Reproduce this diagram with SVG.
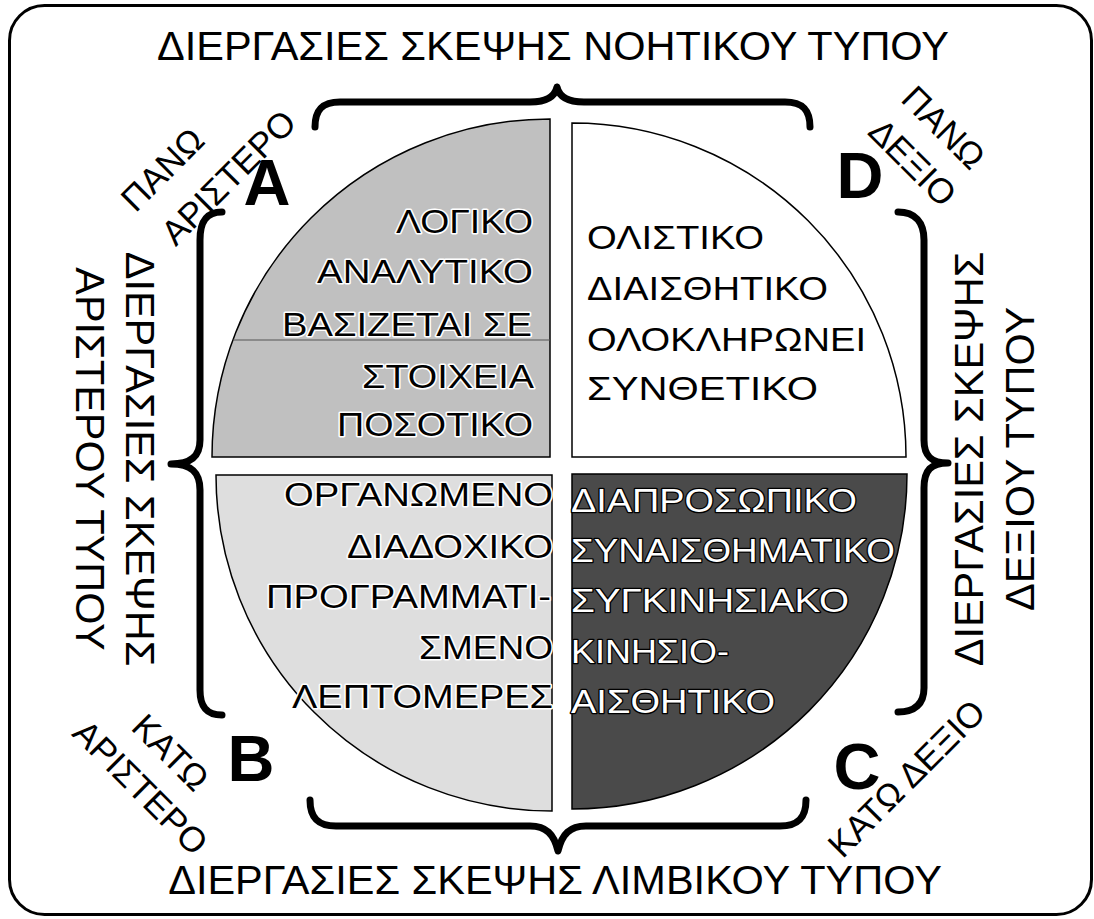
<svg xmlns="http://www.w3.org/2000/svg" width="1094" height="919" viewBox="0 0 1094 919">
<style>
.frame{fill:#fff;stroke:#000;stroke-width:3}
.q{stroke:#000;stroke-width:1.5}
.brace{fill:none;stroke:#000;stroke-width:7;stroke-linecap:round;stroke-linejoin:round}
.t{font-family:"Liberation Sans",Arial,sans-serif;fill:#000}
.big{font-size:41.5px;text-anchor:middle}
.corner{font-size:35px;text-anchor:middle}
.letter{font-size:65px;font-weight:bold;text-anchor:middle}
.qt{font-family:"Liberation Sans",Arial,sans-serif;font-size:34px}
.halo{fill:#000;stroke:#fff;stroke-width:3;paint-order:stroke;stroke-linejoin:round}
.inv{fill:#fff;stroke:#000;stroke-width:2.5;paint-order:stroke;stroke-linejoin:round}
.plain{fill:#000}
</style>
<rect class="frame" x="9.5" y="5.5" width="1082" height="909" rx="35" ry="35"/>

<g id="quadrant-A">
<path class="q" fill="#c0c0c0" d="M550,457 L212,457 A338,338 0 0 1 550,119 Z"/>
<line x1="233" y1="340" x2="550" y2="340" stroke="#555" stroke-width="1"/>
<text class="qt halo" x="396" y="233" textLength="137" lengthAdjust="spacingAndGlyphs">ΛΟΓΙΚΟ</text>
<text class="qt halo" x="317" y="283" textLength="216" lengthAdjust="spacingAndGlyphs">ΑΝΑΛΥΤΙΚΟ</text>
<text class="qt halo" x="282" y="336" textLength="250" lengthAdjust="spacingAndGlyphs">ΒΑΣΙΖΕΤΑΙ ΣΕ</text>
<text class="qt halo" x="362" y="388" textLength="172" lengthAdjust="spacingAndGlyphs">ΣΤΟΙΧΕΙΑ</text>
<text class="qt halo" x="337" y="436" textLength="196" lengthAdjust="spacingAndGlyphs">ΠΟΣΟΤΙΚΟ</text>
</g>

<g id="quadrant-D">
<path class="q" fill="#fff" d="M572,457 L572,123 A334,334 0 0 1 906,457 Z"/>
<text class="qt plain" x="587" y="249" textLength="177" lengthAdjust="spacingAndGlyphs">ΟΛΙΣΤΙΚΟ</text>
<text class="qt plain" x="587" y="300" textLength="241" lengthAdjust="spacingAndGlyphs">ΔΙΑΙΣΘΗΤΙΚΟ</text>
<text class="qt plain" x="587" y="351" textLength="279" lengthAdjust="spacingAndGlyphs">ΟΛΟΚΛΗΡΩΝΕΙ</text>
<text class="qt plain" x="587" y="400" textLength="231" lengthAdjust="spacingAndGlyphs">ΣΥΝΘΕΤΙΚΟ</text>
</g>

<g id="quadrant-B">
<path class="q" fill="#dedede" d="M552,475 L216,475 A336,336 0 0 0 552,811 Z"/>
<text class="qt halo" x="284" y="506" textLength="269" lengthAdjust="spacingAndGlyphs">ΟΡΓΑΝΩΜΕΝΟ</text>
<text class="qt halo" x="347" y="558" textLength="206" lengthAdjust="spacingAndGlyphs">ΔΙΑΔΟΧΙΚΟ</text>
<text class="qt halo" x="266" y="608" textLength="285" lengthAdjust="spacingAndGlyphs">ΠΡΟΓΡΑΜΜΑΤΙ-</text>
<text class="qt halo" x="419" y="659" textLength="134" lengthAdjust="spacingAndGlyphs">ΣΜΕΝΟ</text>
<text class="qt halo" x="292" y="708" textLength="261" lengthAdjust="spacingAndGlyphs">ΛΕΠΤΟΜΕΡΕΣ</text>
</g>

<g id="quadrant-C">
<path class="q" fill="#4a4a4a" d="M572,474 L907,474 A335,335 0 0 1 572,809 Z"/>
<text class="qt inv" x="571" y="512" textLength="286" lengthAdjust="spacingAndGlyphs">ΔΙΑΠΡΟΣΩΠΙΚΟ</text>
<text class="qt inv" x="571" y="562" textLength="324" lengthAdjust="spacingAndGlyphs">ΣΥΝΑΙΣΘΗΜΑΤΙΚΟ</text>
<text class="qt inv" x="571" y="612" textLength="278" lengthAdjust="spacingAndGlyphs">ΣΥΓΚΙΝΗΣΙΑΚΟ</text>
<text class="qt inv" x="571" y="663" textLength="158" lengthAdjust="spacingAndGlyphs">ΚΙΝΗΣΙΟ-</text>
<text class="qt inv" x="571" y="713" textLength="204" lengthAdjust="spacingAndGlyphs">ΑΙΣΘΗΤΙΚΟ</text>
</g>

<g id="connectors">
<path class="brace" d="M315,127 C315,110 322,102 340,102 L530,102 C548,102 555,96 557,87 C559,96 566,102 584,102 L785,102 C803,102 810,110 810,127"/>
<path class="brace" d="M222,212 C206,212 200,222 200,240 L200,440 C200,456 191,464 171,464 C191,464 200,472 200,490 L200,690 C200,706 206,715 222,715"/>
<path class="brace" d="M898,212 C915,212 924,222 924,240 L924,440 C924,456 931,463 948,463 C931,463 924,470 924,488 L924,688 C924,704 915,712 898,712"/>
<path class="brace" d="M310,800 C310,818 318,826 336,826 L530,826 C546,826 554,834 558,851 C562,834 570,826 586,826 L780,826 C798,826 806,818 806,800"/>
</g>

<g id="title-top"><text class="t big" x="553" y="60">ΔΙΕΡΓΑΣΙΕΣ ΣΚΕΨΗΣ ΝΟΗΤΙΚΟΥ ΤΥΠΟΥ</text></g>
<g id="title-bottom"><text class="t big" x="555" y="894">ΔΙΕΡΓΑΣΙΕΣ ΣΚΕΨΗΣ ΛΙΜΒΙΚΟΥ ΤΥΠΟΥ</text></g>
<g id="title-left">
<text class="t big" transform="translate(126,459) rotate(90)">ΔΙΕΡΓΑΣΙΕΣ ΣΚΕΨΗΣ</text>
<text class="t big" transform="translate(76,459) rotate(90)">ΑΡΙΣΤΕΡΟΥ ΤΥΠΟΥ</text>
</g>
<g id="title-right">
<text class="t big" transform="translate(983,459) rotate(-90)">ΔΙΕΡΓΑΣΙΕΣ ΣΚΕΨΗΣ</text>
<text class="t big" transform="translate(1034,459) rotate(-90)">ΔΕΞΙΟΥ ΤΥΠΟΥ</text>
</g>

<g id="corner-top-left">
<text class="t corner" transform="translate(171,178) rotate(-45)">ΠΑΝΩ</text>
<text class="t corner" transform="translate(237,186) rotate(-45)">ΑΡΙΣΤΕΡΟ</text>
</g>
<g id="corner-top-right">
<text class="t corner" transform="translate(935,136) rotate(45)">ΠΑΝΩ</text>
<text class="t corner" transform="translate(904,171) rotate(45)">ΔΕΞΙΟ</text>
</g>
<g id="corner-bottom-left">
<text class="t corner" transform="translate(162,761) rotate(45)">ΚΑΤΩ</text>
<text class="t corner" transform="translate(132,796) rotate(45)">ΑΡΙΣΤΕΡΟ</text>
</g>
<g id="corner-bottom-right">
<text class="t corner" transform="translate(915,787) rotate(-45)">ΚΑΤΩ ΔΕΞΙΟ</text>
</g>

<g id="label-A"><text class="t letter" x="267" y="205">A</text></g>
<g id="label-D"><text class="t letter" x="860" y="198">D</text></g>
<g id="label-B"><text class="t letter" x="251" y="781">B</text></g>
<g id="label-C"><text class="t letter" x="857" y="789">C</text></g>
</svg>
